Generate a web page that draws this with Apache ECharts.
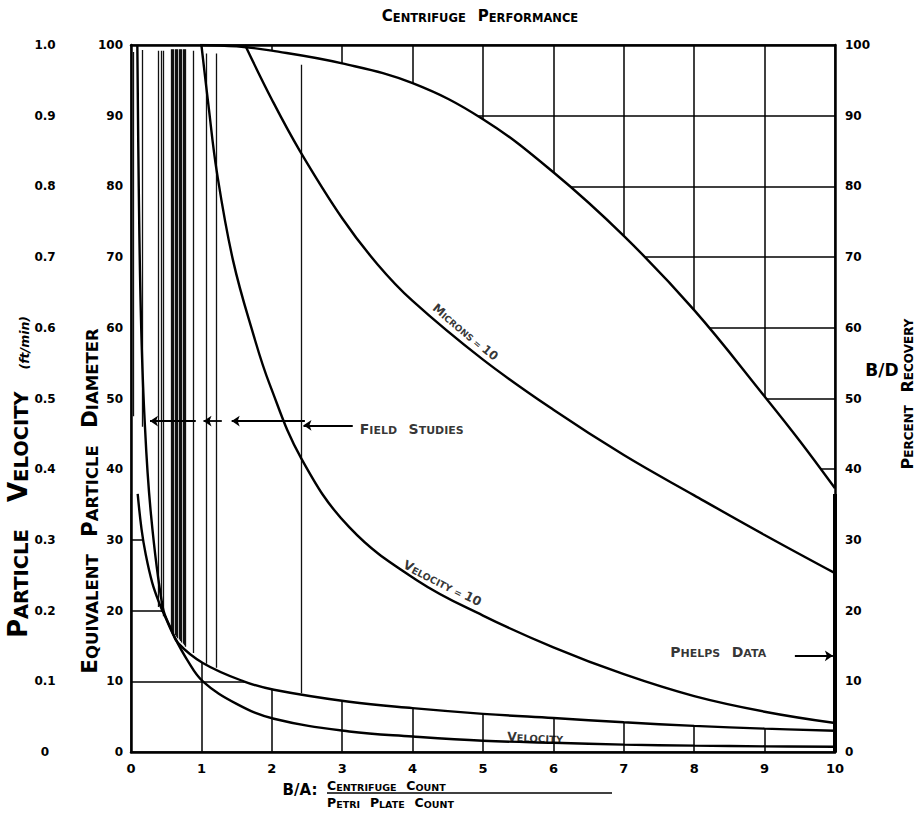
<!DOCTYPE html>
<html><head><meta charset="utf-8">
<script src="https://cdn.jsdelivr.net/npm/echarts@6/dist/echarts.min.js"></script>
<style>html,body{margin:0;padding:0;background:#fff}#c{width:920px;height:814px}</style>
</head><body><div id="c"></div>
<script>
// ---------------- data ----------------
const xTickLabels   = ['0','1','2','3','4','5','6','7','8','9','10'];
const pctTickLabels = ['0','10','20','30','40','50','60','70','80','90','100'];
const velTickLabels = ['0','0.1','0.2','0.3','0.4','0.5','0.6','0.7','0.8','0.9','1.0'];

// B/D percent recovery curve (outermost)
const recoveryX = [0.98, 1.5, 2, 3, 4, 5, 6, 7, 8, 9, 9.5, 10];
const recoveryY = [100, 99.8, 99.2, 97.4, 94.6, 89.5, 82, 73, 62.5, 50.3, 44, 37.3];
// Microns = 10
const micronsX = [1.62, 2, 2.4, 3, 3.5, 4, 5, 6, 7, 8, 9, 10];
const micronsY = [100, 92.3, 85, 75.5, 69, 63.8, 55.5, 48.4, 42.0, 36.3, 30.7, 25.3];
// Velocity = 10
const vel10X = [1.0, 1.1, 1.22, 1.45, 1.74, 1.97, 2.42, 3.1, 4.06, 5, 6, 7, 8, 9, 10];
const vel10Y = [100, 91.5, 82, 69.5, 59, 52, 41.5, 31.8, 24.3, 19.3, 14.8, 11.0, 7.9, 5.7, 4.1];
// Equivalent particle diameter curve (lower boundary)
const diameterX = [0.09, 0.11, 0.14, 0.19, 0.28, 0.45, 0.57, 0.67, 1.02, 1.6, 2.03, 3.1, 4, 5, 6, 7, 8, 9, 10];
const diameterY = [100, 80, 62, 47.7, 34, 20.5, 17.4, 15.4, 12.6, 10, 8.8, 7.1, 6.2, 5.4, 4.8, 4.2, 3.7, 3.3, 3.0];
// Velocity curve (lowest)
const velocityX = [0.095, 0.15, 0.21, 0.3, 0.4, 0.5, 0.59, 0.8, 1.02, 1.5, 2.03, 3.1, 4, 5, 6, 7, 8, 9, 10];
const velocityY = [36.5, 31.5, 27.9, 24, 21.1, 18.8, 16.8, 13, 10, 6.8, 4.7, 2.9, 2.2, 1.6, 1.3, 1.05, 0.9, 0.8, 0.75];

// Field studies: vertical data lines (B/A value, top %, bottom %)
const fieldX      = [0.035, 0.166, 0.39, 0.425, 0.46, 0.565, 0.584, 0.603, 0.622, 0.641, 0.66, 0.679, 0.698, 0.717, 0.736, 0.755, 0.774, 0.88, 1.07, 1.21, 2.42];
const fieldTop    = [99, 99.3, 99.2, 99.2, 99.2, 99.4, 99.4, 99.4, 99.4, 99.4, 99.4, 99.4, 99.4, 99.4, 99.4, 99.4, 99.4, 99.2, 98.8, 98.8, 97.2];
const fieldBottom = [47.5, 46, 20.5, 19.8, 19.2, 17.3, 17, 16.8, 16.5, 16.3, 16.1, 15.9, 15.7, 15.5, 15.3, 15.1, 14.9, 14, 12.5, 11.9, 8.3];
// Phelps data
const phelpsX = [10];
const phelpsTop = [36.5];
const phelpsBottom = [0];

// annotation anchors (data units)
const noteText = ['MICRONS = 10', 'VELOCITY = 10', 'FIELD STUDIES', 'PHELPS DATA', 'VELOCITY'];
const noteX    = [4.76, 4.43, 3.25, 7.66, 5.74];
const noteY    = [59.5, 24.0, 45.8, 14.3, 2.2];
const arrowFromX = [0.92, 1.29, 2.47, 3.15, 9.43];
const arrowToX   = [0.27, 1.03, 1.43, 2.45, 9.97];
const arrowY     = [46.8, 46.8, 46.8, 46.2, 13.6];

// ---------------- styling / helpers ----------------
const F = '"DejaVu Sans", "Liberation Sans", sans-serif';
const noteRot   = [-40, -27, 0, 0, -2];
const noteAlign = ['center', 'center', 'left', 'left', 'center'];
const noteBig   = [12, 12.5, 14, 14, 12.5];
const noteSmall = [9, 9.5, 11, 11, 10];
const noteGap   = [' ', ' ', '   ', '   ', ' '];

function sc(str, b, s, gap) {
  b = b || 'b'; s = s || 's'; gap = gap || '   ';
  return str.split(' ').map(function (w) {
    if (!w) return '';
    if (/^[0-9]+$/.test(w)) return '{' + b + '|' + w + '}';
    var f = w[0], r = w.slice(1);
    return (/[A-Z]/.test(f) ? '{' + b + '|' + f + '}' : '{' + s + '|' + f + '}') + (r ? '{' + s + '|' + r + '}' : '');
  }).join('{' + s + '|' + gap + '}');
}
function rs(size, extra) {
  var o = {fontSize: size, fontWeight: 'bold', fontFamily: F, color: '#000', fill: '#000', verticalAlign: 'bottom', lineHeight: size + 2};
  if (extra) for (var k in extra) o[k] = extra[k];
  return o;
}
function pts(xs, ys) { return xs.map(function (x, i) { return [x, ys[i]]; }); }
function curve(xs, ys) {
  return {type: 'line', xAxisIndex: 0, yAxisIndex: 0, data: pts(xs, ys), smooth: 0.4,
    showSymbol: false, symbol: 'none', silent: true, z: 4, lineStyle: {color: '#000', width: 2.4}};
}

// mask polygon: white region between the recovery curve and the lower curves (grid hidden there)
const maskUpper = [[0, 100]].concat(pts(recoveryX, recoveryY));
const maskLower = [[0, velocityY[0]]]
  .concat(pts(velocityX, velocityY).filter(function (p) { return p[0] <= 0.59; }))
  .concat(pts(diameterX, diameterY).filter(function (p) { return p[0] >= 0.67; }));
const maskPts = maskUpper.concat(maskLower.slice().reverse());

const axisLineStyle = {color: '#000', width: 2.5};
const labelStyle = {color: '#000', fontWeight: 'bold', fontFamily: F, fontSize: 13};

const chart = echarts.init(document.getElementById('c'), null, {renderer: 'svg', width: 920, height: 814});
chart.setOption({
  animation: false,
  backgroundColor: '#fff',
  grid: {left: 131, right: 85, top: 45, bottom: 62, containLabel: false, outerBoundsMode: 'none'},
  xAxis: [
    {type: 'value', min: 0, max: 10, interval: 1, position: 'bottom', z: 10,
     axisLine: {show: true, onZero: false, lineStyle: axisLineStyle}, axisTick: {show: false}, splitLine: {show: false},
     axisLabel: Object.assign({margin: 10, showMinLabel: true, showMaxLabel: true,
       formatter: function (v) { return xTickLabels[Math.round(v)]; }}, labelStyle)},
    {type: 'value', min: 0, max: 10, interval: 1, position: 'top', z: 10,
     axisLine: {show: true, onZero: false, lineStyle: axisLineStyle}, axisTick: {show: false},
     axisLabel: {show: false}, splitLine: {show: false}},
    {type: 'value', min: 0, max: 10, interval: 1, position: 'bottom', z: 0,
     axisLine: {show: false}, axisTick: {show: false}, axisLabel: {show: false},
     splitLine: {show: true, lineStyle: {color: '#000', width: 1.5}}}
  ],
  yAxis: [
    {type: 'value', min: 0, max: 100, interval: 10, position: 'left', z: 10,
     axisLine: {show: true, onZero: false, lineStyle: axisLineStyle}, axisTick: {show: false}, splitLine: {show: false},
     axisLabel: Object.assign({margin: 8, showMinLabel: true, showMaxLabel: true,
       formatter: function (v) { return pctTickLabels[Math.round(v / 10)]; }}, labelStyle, {fontSize: 12})},
    {type: 'value', min: 0, max: 10, interval: 1, position: 'left', z: 10,
     axisLine: {show: false}, axisTick: {show: false}, splitLine: {show: false},
     axisLabel: Object.assign({margin: 86, align: 'center', showMinLabel: true, showMaxLabel: true,
       formatter: function (v) { return velTickLabels[Math.round(v)]; }}, labelStyle, {fontSize: 12})},
    {type: 'value', min: 0, max: 100, interval: 10, position: 'right', z: 10,
     axisLine: {show: true, onZero: false, lineStyle: axisLineStyle}, axisTick: {show: false}, splitLine: {show: false},
     axisLabel: Object.assign({margin: 10, showMinLabel: true, showMaxLabel: true,
       formatter: function (v) { return pctTickLabels[Math.round(v / 10)]; }}, labelStyle, {fontSize: 12})},
    {type: 'value', min: 0, max: 100, interval: 10, position: 'left', z: 0,
     axisLine: {show: false}, axisTick: {show: false}, axisLabel: {show: false},
     splitLine: {show: true, lineStyle: {color: '#000', width: 1.5}}}
  ],
  series: [
    {type: 'custom', xAxisIndex: 0, yAxisIndex: 0, z: 1, silent: true, data: [[0, 0]],
     renderItem: function (params, api) {
       return {type: 'polygon', shape: {points: maskPts.map(function (p) { return api.coord(p); })},
               style: {fill: '#fff', stroke: '#fff', lineWidth: 0.5}};
     }},
    curve(recoveryX, recoveryY),
    curve(micronsX, micronsY),
    curve(vel10X, vel10Y),
    curve(diameterX, diameterY),
    curve(velocityX, velocityY),
    {type: 'lines', coordinateSystem: 'cartesian2d', xAxisIndex: 0, yAxisIndex: 0, z: 3, silent: true,
     lineStyle: {color: '#111', width: 1.3, opacity: 1, curveness: 0},
     data: fieldX.map(function (x, i) { return {coords: [[x, fieldTop[i]], [x, fieldBottom[i]]]}; })},
    {type: 'lines', coordinateSystem: 'cartesian2d', xAxisIndex: 0, yAxisIndex: 0, z: 11, silent: true,
     lineStyle: {color: '#000', width: 4, opacity: 1, curveness: 0},
     data: phelpsX.map(function (x, i) { return {coords: [[x, phelpsTop[i]], [x, phelpsBottom[i]]]}; })},
    {type: 'scatter', xAxisIndex: 0, yAxisIndex: 0, z: 5, silent: true, symbolSize: 0,
     data: noteText.map(function (t, i) {
       return {value: [noteX[i], noteY[i]],
         label: {show: true, position: [0, 0], rotate: noteRot[i], align: noteAlign[i], verticalAlign: 'middle',
           formatter: sc(t, 'b', 's', noteGap[i]), rich: {b: rs(noteBig[i]), s: rs(noteSmall[i])}}};
     }),
     markLine: {silent: true, symbol: ['none', 'arrow'], symbolSize: 8, label: {show: false},
       lineStyle: {color: '#000', width: 1.8, type: 'solid'}, emphasis: {disabled: true},
       data: arrowFromX.map(function (x, i) {
         return [{coord: [x, arrowY[i]]}, {coord: [arrowToX[i], arrowY[i]]}];
       })}}
  ],
  graphic: [
    {type: 'text', x: 480, y: 15, style: {text: sc('CENTRIFUGE PERFORMANCE'), rich: {b: rs(15), s: rs(11.5)},
      textAlign: 'center', textVerticalAlign: 'middle'}},
    {type: 'text', x: 17, y: 477, rotation: Math.PI / 2, style: {text: sc('PARTICLE VELOCITY', 'b', 's', '    ') + '{u|     (ft/min)}',
      rich: {b: rs(26), s: rs(19.5), u: rs(12.5, {fontStyle: 'italic'})}, textAlign: 'center', textVerticalAlign: 'middle'}},
    {type: 'text', x: 89, y: 501, rotation: Math.PI / 2, style: {text: sc('EQUIVALENT PARTICLE DIAMETER'),
      rich: {b: rs(21.5), s: rs(16.5)}, textAlign: 'center', textVerticalAlign: 'middle'}},
    {type: 'text', x: 882, y: 370, style: {text: 'B/D', font: 'bold 17px ' + F, fill: '#000',
      textAlign: 'center', textVerticalAlign: 'middle'}},
    {type: 'text', x: 906, y: 394, rotation: Math.PI / 2, style: {text: sc('PERCENT RECOVERY'),
      rich: {b: rs(16), s: rs(12)}, textAlign: 'center', textVerticalAlign: 'middle'}},
    {type: 'text', x: 300, y: 790, style: {text: 'B/A:', font: 'bold 15px ' + F, fill: '#000',
      textAlign: 'center', textVerticalAlign: 'middle'}},
    {type: 'text', x: 327, y: 785, style: {text: sc('CENTRIFUGE COUNT'), rich: {b: rs(12.5), s: rs(9.5)},
      textAlign: 'left', textVerticalAlign: 'middle'}},
    {type: 'line', shape: {x1: 327, y1: 793, x2: 612, y2: 793}, style: {stroke: '#000', lineWidth: 1.5}},
    {type: 'text', x: 327, y: 802, style: {text: sc('PETRI PLATE COUNT'), rich: {b: rs(12.5), s: rs(9.5)},
      textAlign: 'left', textVerticalAlign: 'middle'}}
  ]
});
</script>
</body></html>
